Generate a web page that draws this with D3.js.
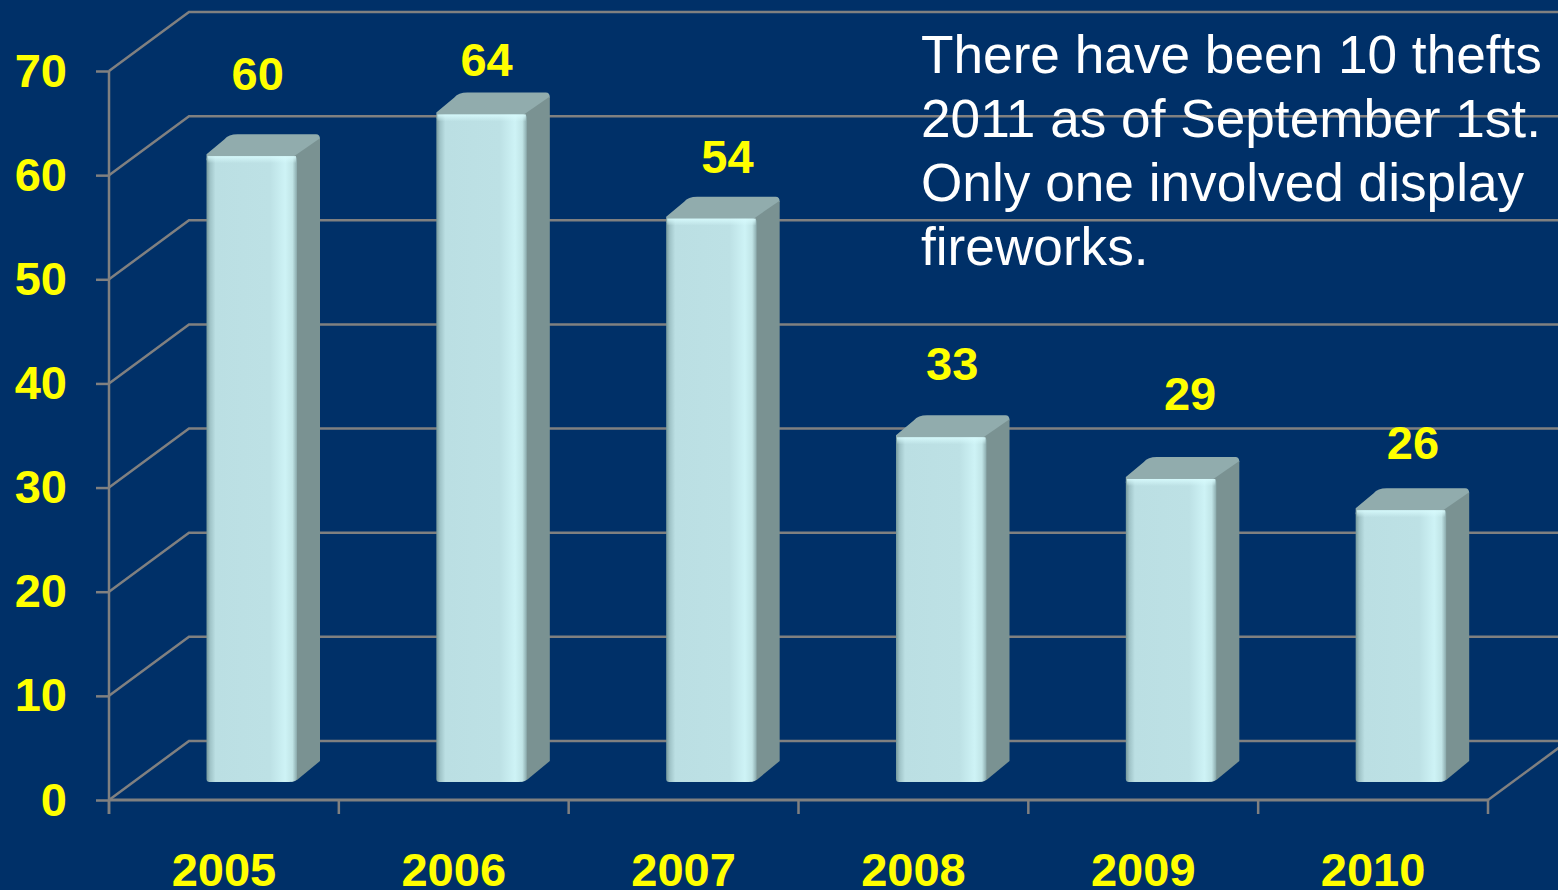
<!DOCTYPE html>
<html>
<head>
<meta charset="utf-8">
<script src="https://cdn.jsdelivr.net/npm/d3@7"></script>
<style>
  html, body { margin: 0; padding: 0; background: #003068; overflow: hidden; }
  svg { display: block; }
  text { font-family: "Liberation Sans", Arial, sans-serif; }
  .tickLabel text, .valueLabel { font-size: 47px; font-weight: bold; fill: #ffff00; }
  .note { font-size: 53.2px; fill: #ffffff; }
</style>
</head>
<body>
<svg id="chart"></svg>
<script>
const years = ["2005", "2006", "2007", "2008", "2009", "2010"];
const thefts = [60, 64, 54, 33, 29, 26];
const yTicks = [0, 10, 20, 30, 40, 50, 60, 70];
const noteLines = [
    "There have been 10 thefts",
    "2011 as of September 1st.",
    "Only one involved display",
    "fireworks."
];

const width = 1558, height = 890;
const gridColor = "#808080";

// depth of the fake 3d box, back wall is shifted from the front axis
const wallDx = 80, wallDy = -59;
// bars stand a little way into the floor
const barFrontDy = -19, barDepthX = 23, barDepthY = -22;

const svg = d3.select("#chart").attr("width", width).attr("height", height);

const xScale = d3.scaleBand().domain(years).range([109, 1488]);
const yScale = d3.scaleLinear().domain([0, 70]).range([800, 71]);

const defs = svg.append("defs");
const grad = defs.append("linearGradient").attr("id", "barFace");
[
    [0, "#76999d"], [0.04, "#9fc3c7"], [0.1, "#bbdfe3"], [0.7, "#bde1e5"],
    [0.87, "#cef3f6"], [0.95, "#c0e4e6"], [1, "#8aa9ab"]
].forEach((s) => grad.append("stop").attr("offset", s[0]).attr("stop-color", s[1]));

const topShine = defs.append("linearGradient")
    .attr("id", "barShine").attr("x1", 0).attr("x2", 0).attr("y1", 0).attr("y2", 1);
topShine.append("stop").attr("offset", 0).attr("stop-color", "#d8fbfd").attr("stop-opacity", 0.9);
topShine.append("stop").attr("offset", 1).attr("stop-color", "#d8fbfd").attr("stop-opacity", 0);

svg.append("rect").attr("width", width).attr("height", height).attr("fill", "#003068");

// back wall gridlines with the slanted part on the side wall
const grid = svg.append("g").attr("fill", "none").attr("stroke", gridColor).attr("stroke-width", 2.5);
grid.selectAll("path.wall")
    .data(yTicks)
    .enter().append("path")
    .attr("class", "wall")
    .attr("d", (d) => {
        const y = yScale(d);
        return "M109," + y + "L" + (109 + wallDx) + "," + (y + wallDy) + "H" + width;
    });

// floor edge on the right
grid.append("path")
    .attr("d", "M" + xScale.range()[1] + "," + yScale(0) + "l" + wallDx + "," + wallDy);

// axes
const yAxis = svg.append("g")
    .attr("class", "tickLabel")
    .attr("transform", "translate(109,0)")
    .call(d3.axisLeft(yScale).tickValues(yTicks).tickSize(13).tickPadding(29).tickFormat(d3.format("d")));
yAxis.selectAll("line, path").attr("stroke", gridColor).attr("stroke-width", 2.5);
yAxis.select("path").attr("d", "M0," + yScale(70) + "V" + (yScale(0) + 14));

const xAxis = svg.append("g")
    .attr("class", "tickLabel")
    .attr("transform", "translate(0," + yScale(0) + ")")
    .call(d3.axisBottom(xScale).tickSize(0).tickPadding(53));
xAxis.select("path").attr("d", "M" + xScale.range()[0] + ",0H" + xScale.range()[1])
    .attr("stroke", gridColor).attr("stroke-width", 3);
xAxis.selectAll(".tick text").attr("dy", "0.71em");

// ticks sit between the categories, not in the middle
svg.append("g").attr("stroke", gridColor).attr("stroke-width", 2.5)
    .selectAll("line")
    .data(years.concat("end"))
    .enter().append("line")
    .attr("x1", (d, i) => xScale.range()[0] + i * xScale.step())
    .attr("x2", (d, i) => xScale.range()[0] + i * xScale.step())
    .attr("y1", yScale(0))
    .attr("y2", yScale(0) + 14);

// bars
const barLeft = 97.5, barWidth = 90.5;
const bars = svg.selectAll("g.bar")
    .data(thefts)
    .enter().append("g")
    .attr("class", "bar")
    .attr("transform", (d, i) => "translate(" + (xScale(years[i]) + barLeft) + ",0)");

bars.append("path")
    .attr("fill", "#91acad")
    .attr("d", (d) => {
        const t = yScale(d) + barFrontDy;
        return "M0," + (t - 2) + "L" + (barDepthX - 5) + "," + (t + barDepthY + 5) +
            "Q" + (barDepthX - 1) + "," + (t + barDepthY) + " " + (barDepthX + 8) + "," + (t + barDepthY) +
            "H" + (barWidth + barDepthX - 4) +
            "Q" + (barWidth + barDepthX) + "," + (t + barDepthY) + " " + (barWidth + barDepthX) + "," + (t + barDepthY + 5) +
            "L" + barWidth + "," + (t + 4) + "H0Z";
    });

bars.append("path")
    .attr("fill", "#7a9292")
    .attr("d", (d) => {
        const t = yScale(d) + barFrontDy, b = yScale(0) + barFrontDy;
        return "M" + (barWidth - 3) + "," + t +
            "L" + (barWidth + barDepthX) + "," + (t + barDepthY + 4) +
            "V" + (b + barDepthY + 2) +
            "L" + barWidth + "," + (b - 1) + "L" + (barWidth - 6) + "," + (b + 1) + "Z";
    });

const facePath = (d) => {
    const t = yScale(d) + barFrontDy, b = yScale(0) + barFrontDy + 1;
    return "M0," + (t + 3) + "Q0," + t + " 3," + t + "H" + (barWidth - 3) +
        "Q" + barWidth + "," + t + " " + barWidth + "," + (t + 3) +
        "V" + (b - 4) + "Q" + barWidth + "," + b + " " + (barWidth - 8) + "," + b +
        "H3Q0," + b + " 0," + (b - 3) + "Z";
};

bars.append("path").attr("fill", "url(#barFace)").attr("d", facePath);

// thin bright edge along the top of the face
bars.append("rect")
    .attr("x", 1)
    .attr("y", (d) => yScale(d) + barFrontDy)
    .attr("width", barWidth - 2)
    .attr("height", 7)
    .attr("fill", "url(#barShine)");

// the value labels were dragged by hand in the original, so they are not evenly placed
const labelDx = [6, 5, 16, 11, 19, 12];
const labelDy = [-83, -55, -63, -74, -86, -68];
svg.selectAll("text.valueLabel")
    .data(thefts)
    .enter().append("text")
    .attr("class", "valueLabel")
    .attr("text-anchor", "middle")
    .attr("x", (d, i) => xScale(years[i]) + barLeft + barWidth / 2 + labelDx[i])
    .attr("y", (d, i) => yScale(d) + barFrontDy + labelDy[i] + 17)
    .text((d) => d);

svg.selectAll("text.note")
    .data(noteLines)
    .enter().append("text")
    .attr("class", "note")
    .attr("x", 921)
    .attr("y", (d, i) => 73 + i * 64)
    .text((d) => d);
</script>
</body>
</html>
